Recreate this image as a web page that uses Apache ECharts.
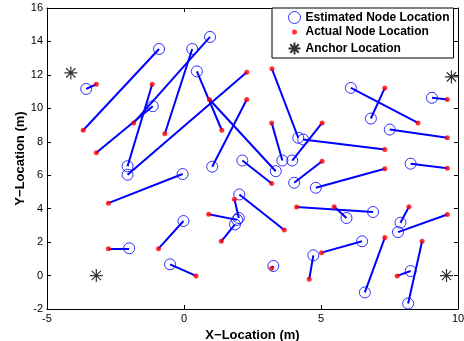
<!DOCTYPE html>
<html>
<head>
<meta charset="utf-8">
<script src="https://cdn.jsdelivr.net/npm/echarts@6/dist/echarts.min.js"></script>
<style>
html, body { margin: 0; padding: 0; background: #fff; }
#chart { width: 464px; height: 341px; }
</style>
</head>
<body>
<div id="chart"></div>
<script>
// estimated node locations (blue circles), same order as actual
var estimated = [
  [-3.57, 11.16], [-0.91, 13.55], [0.95, 14.27], [0.30, 13.55], [-1.14, 10.13],
  [-2.06, 6.54], [-2.06, 6.03], [0.47, 12.21], [3.35, 6.24], [1.03, 6.51],
  [4.17, 8.24], [3.59, 6.88], [3.95, 6.88], [2.13, 6.88], [4.02, 5.55],
  [-0.05, 6.07], [6.82, 9.39], [6.09, 11.22], [9.05, 10.63], [7.51, 8.73],
  [4.35, 8.14], [8.27, 6.69], [4.81, 5.25], [6.90, 3.80], [5.93, 3.44],
  [7.90, 3.16], [7.81, 2.60], [6.50, 2.05], [6.60, -1.01], [8.27, 0.27],
  [8.18, -1.67], [-0.02, 3.26], [2.00, 3.44], [1.94, 3.33], [1.86, 3.06],
  [2.02, 4.85], [3.26, 0.57], [4.72, 1.21], [-0.51, 0.67], [-2.00, 1.63]
]
// actual node locations (red dots)
var actual = [
  [-3.20, 11.44], [-3.68, 8.69], [-1.84, 9.13], [-0.70, 8.48], [-3.20, 7.34],
  [-1.16, 11.44], [2.29, 12.16], [1.38, 8.69], [0.93, 10.53], [2.29, 10.53],
  [3.21, 12.36], [3.20, 9.13], [5.04, 9.13], [3.20, 5.51], [5.04, 6.84],
  [-2.76, 4.33], [7.33, 11.22], [8.54, 9.13], [9.61, 10.53], [9.61, 8.24],
  [7.33, 7.54], [9.61, 6.41], [7.33, 6.39], [4.11, 4.10], [5.48, 4.11],
  [8.21, 4.11], [9.61, 3.65], [5.02, 1.37], [7.33, 2.27], [7.78, -0.02],
  [8.69, 2.05], [-0.93, 1.61], [1.84, 4.56], [0.90, 3.66], [1.36, 2.05],
  [3.66, 2.72], [3.20, 0.44], [4.57, -0.22], [0.44, -0.02], [-2.76, 1.61]
]
var anchors = [[-4.13, 12.12], [-3.20, 0], [9.58, 0], [9.76, 11.88]]

var xTicks = [-5, 0, 5, 10]
var yTicks = [-2, 0, 2, 4, 6, 8, 10, 12, 14, 16]

var font = 'Liberation Sans, Arial, Helvetica, sans-serif'
var starPath = 'path://M0,7L14,7M7,0L7,14M2,2L12,12M2,12L12,2'

var myChart = echarts.init(document.getElementById('chart'))

// matlab style box: ticks inside on all four sides
function axisBase(pos, ticks, show) {
  return {
    type: 'value',
    position: pos,
    min: ticks[0],
    max: ticks[ticks.length - 1],
    interval: ticks[1] - ticks[0],
    splitLine: { show: false },
    axisLine: { onZero: false, lineStyle: { color: '#000', width: 1 } },
    axisTick: { inside: true, length: 4, lineStyle: { color: '#000' } },
    axisLabel: { show: show, color: '#000', fontSize: 11, fontFamily: font }
  }
}

var xMain = axisBase('bottom', xTicks, true)
xMain.name = 'X\u2212Location (m)'
xMain.nameLocation = 'middle'
xMain.nameGap = 18
xMain.nameTextStyle = { color: '#000', fontSize: 13, fontWeight: 'bold', fontFamily: font }
xMain.axisLabel.margin = 4

var yMain = axisBase('left', yTicks, true)
yMain.name = 'Y\u2212Location (m)'
yMain.nameLocation = 'middle'
yMain.nameGap = 20
yMain.nameMoveOverlap = false
yMain.nameTextStyle = { color: '#000', fontSize: 13, fontWeight: 'bold', fontFamily: font }
yMain.axisLabel.margin = 4

var option = {
  animation: false,
  backgroundColor: '#fff',
  grid: { left: 47, right: 6, top: 8, bottom: 32, containLabel: false, outerBoundsMode: 'none' },
  xAxis: [xMain, axisBase('top', xTicks, false)],
  yAxis: [yMain, axisBase('right', yTicks, false)],
  legend: {
    left: 272,
    top: 8,
    orient: 'vertical',
    selectedMode: false,
    backgroundColor: '#fff',
    borderColor: '#000',
    borderWidth: 1,
    borderRadius: 0,
    padding: [3, 4, 1, 14],
    itemWidth: 12,
    itemHeight: 12,
    itemGap: 2,
    itemTextGap: 11,
    textStyle: { color: '#000', fontSize: 12, fontWeight: 'bold', fontFamily: font },
    data: [
      {
        name: 'Estimated Node Location',
        icon: 'circle',
        itemStyle: { color: 'rgba(0,0,0,0)', borderColor: '#0000ff', borderWidth: 1 }
      },
      { name: 'Actual Node Location', icon: 'path://M0,0M12,12M3.5,6a2.5,2.5 0 1 0 5 0a2.5,2.5 0 1 0 -5 0Z' },
      { name: 'Anchor Location' }
    ]
  },
  series: [
    {
      name: 'link',
      type: 'lines',
      coordinateSystem: 'cartesian2d',
      silent: true,
      z: 1,
      lineStyle: { color: '#0000ff', width: 2, opacity: 1 },
      data: estimated.map(function (p, i) {
        return { coords: [p, actual[i]] }
      })
    },
    {
      name: 'Estimated Node Location',
      type: 'scatter',
      symbol: 'circle',
      symbolSize: 11,
      z: 2,
      itemStyle: { color: 'rgba(0,0,0,0)', borderColor: '#0000ff', borderWidth: 1 },
      data: estimated
    },
    {
      name: 'Actual Node Location',
      type: 'scatter',
      symbol: 'circle',
      symbolSize: 5,
      z: 3,
      itemStyle: { color: '#ff0000' },
      data: actual
    },
    {
      name: 'Anchor Location',
      type: 'scatter',
      symbol: starPath,
      symbolSize: 13,
      z: 3,
      itemStyle: { color: 'none', borderColor: '#000', borderWidth: 1.2 },
      data: anchors
    }
  ]
}
myChart.setOption(option)
</script>
</body>
</html>
